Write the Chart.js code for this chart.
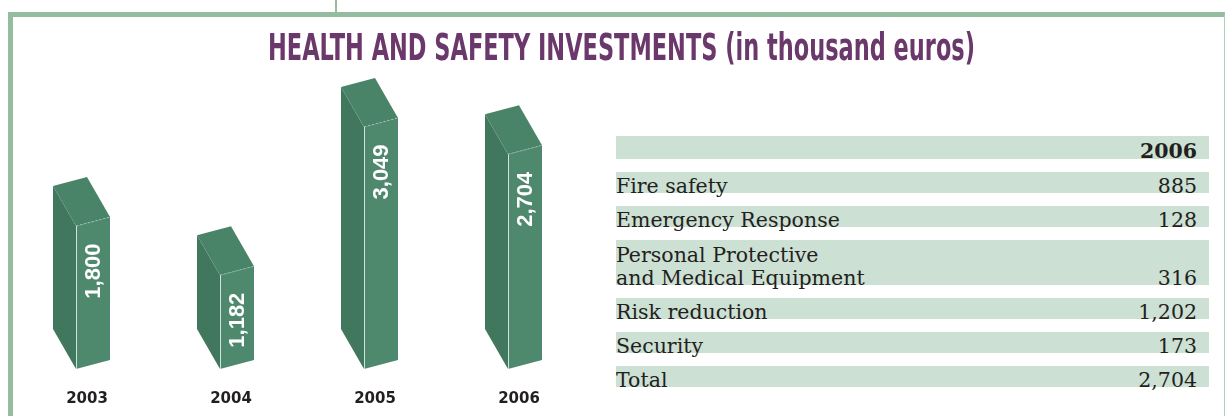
<!DOCTYPE html>
<html>
<head>
<meta charset="utf-8">
<title>Health and safety investments</title>
<script src="https://cdn.jsdelivr.net/npm/chart.js@4.4.1/dist/chart.umd.min.js"></script>
<style>
  html, body { margin: 0; padding: 0; background: #fff; }
  body { width: 1225px; height: 416px; position: relative; overflow: hidden; }
  .frame {
    position: absolute; left: 8px; top: 12px; width: 1211px; height: 460px;
    border-top: 5px solid #94bd9f; border-left: 5px solid #94bd9f; border-right: 1px solid #b3d0bb;
  }
  .notch { position: absolute; left: 335px; top: 0; width: 2px; height: 12px; background: #94bd9f; }
  #title {
    position: absolute; left: 268px; top: 29px; margin: 0;
    font: bold 37px "Liberation Sans Narrow", "DejaVu Sans Condensed", sans-serif;
    line-height: 37px; color: #6b386b; white-space: nowrap; transform-origin: 0 0;
  }
  #chart-wrap { position: absolute; left: 0; top: 0; width: 610px; height: 416px; }
  #table {
    position: absolute; left: 616px; top: 136px; width: 593px;
    font: 20.5px "DejaVu Serif", serif; color: #231f20;
  }
  .row {
    display: flex; justify-content: space-between; box-sizing: border-box;
    background: #cde0d4; height: 21px; line-height: 21px; margin-bottom: 13px; padding-right: 12px;
  }
  .row span { position: relative; top: 4px; white-space: pre-line; }
  .row.head { height: 23px; line-height: 23px; font-weight: bold; }
  .row.two { height: 45px; line-height: 22.5px; }
  .row.two .val { align-self: flex-end; }
</style>
</head>
<body>
<div class="notch"></div>
<div class="frame"></div>
<div id="chart-wrap"><canvas id="chart"></canvas></div>
<h1 id="title">HEALTH AND SAFETY INVESTMENTS (in thousand euros)</h1>
<div id="table"></div>
<script>
const YEARS = ['2003', '2004', '2005', '2006'];
const INVESTMENT = [1800, 1182, 3049, 2704];

const TABLE_YEAR = '2006';
const ITEMS = [
  'Fire safety',
  'Emergency Response',
  'Personal Protective\nand Medical Equipment',
  'Risk reduction',
  'Security',
  'Total',
];
const ITEM_VALUES = [885, 128, 316, 1202, 173, 2704];

// look of the 3d boxes
const DX = -23;
const DY = -40;
const SKEW = 9;
const FRONT = '#4e896e';
const SIDE = '#40775d';
const TOP = '#4a8468';

const fmt = (v) => v.toLocaleString('en-US');

function poly(ctx, pts, color) {
  ctx.beginPath();
  ctx.moveTo(pts[0][0], pts[0][1]);
  for (let i = 1; i < pts.length; i++) ctx.lineTo(pts[i][0], pts[i][1]);
  ctx.closePath();
  ctx.fillStyle = color;
  ctx.fill();
}

const bar3d = {
  id: 'bar3d',
  afterDatasetsDraw(chart) {
    const ctx = chart.ctx;
    chart.getDatasetMeta(0).data.forEach((bar, i) => {
      const { x, y, base, width } = bar.getProps(['x', 'y', 'base', 'width'], true);
      const l = x - width / 2;
      const r = x + width / 2;
      ctx.save();
      poly(ctx, [[l, y], [l + DX, y + DY], [l + DX, base + DY], [l, base]], SIDE);
      poly(ctx, [[l, y], [r, y - SKEW], [r + DX, y - SKEW + DY], [l + DX, y + DY]], TOP);
      poly(ctx, [[l, y], [r, y - SKEW], [r, base - SKEW], [l, base]], FRONT);

      ctx.strokeStyle = 'rgba(255,255,255,0.75)';
      ctx.lineWidth = 1;
      ctx.beginPath();
      ctx.moveTo(l + 0.5, y);
      ctx.lineTo(l + 0.5, base);
      ctx.stroke();
      ctx.setLineDash([2, 2]);
      ctx.strokeStyle = 'rgba(255,255,255,0.35)';
      ctx.beginPath();
      ctx.moveTo(l, y);
      ctx.lineTo(r, y - SKEW);
      ctx.stroke();
      ctx.setLineDash([]);

      ctx.translate(x, y - SKEW / 2 + 22);
      ctx.rotate(-Math.PI / 2);
      ctx.font = 'bold 22px "Liberation Sans", Arial, sans-serif';
      ctx.fillStyle = '#fff';
      ctx.textAlign = 'right';
      ctx.textBaseline = 'middle';
      ctx.fillText(fmt(INVESTMENT[i]), 0, 1);
      ctx.restore();
    });
  },
};

new Chart(document.getElementById('chart'), {
  type: 'bar',
  data: {
    labels: YEARS,
    datasets: [{ data: INVESTMENT, backgroundColor: 'rgba(0,0,0,0)', barThickness: 34 }],
  },
  options: {
    responsive: true,
    maintainAspectRatio: false,
    animation: false,
    devicePixelRatio: 1,
    layout: { padding: { left: 21, right: 13, top: 51.4, bottom: 0 } },
    plugins: { legend: { display: false }, tooltip: { enabled: false } },
    scales: {
      x: {
        grid: { display: false, drawTicks: false },
        border: { display: false },
        afterFit: (s) => { s.height = 47; },
        ticks: {
          color: '#231f20',
          padding: 21,
          labelOffset: -6,
          font: { family: '"DejaVu Sans", sans-serif', weight: 'bold', size: 15 },
        },
      },
      y: { display: false, min: 0, max: 4000 },
    },
  },
  plugins: [bar3d],
});

const tableEl = document.getElementById('table');
function addRow(label, value, cls) {
  const row = document.createElement('div');
  row.className = 'row' + (cls ? ' ' + cls : '');
  const a = document.createElement('span');
  a.textContent = label;
  const b = document.createElement('span');
  b.className = 'val';
  b.textContent = value;
  row.append(a, b);
  tableEl.appendChild(row);
}
addRow('', TABLE_YEAR, 'head');
ITEMS.forEach((item, i) => addRow(item, fmt(ITEM_VALUES[i]), item.includes('\n') ? 'two' : ''));

function fitTitle() {
  const t = document.getElementById('title');
  t.style.transform = '';
  const w = t.getBoundingClientRect().width;
  t.style.transform = `scaleX(${707 / w})`;
}
fitTitle();
document.fonts.ready.then(fitTitle);
</script>
</body>
</html>
